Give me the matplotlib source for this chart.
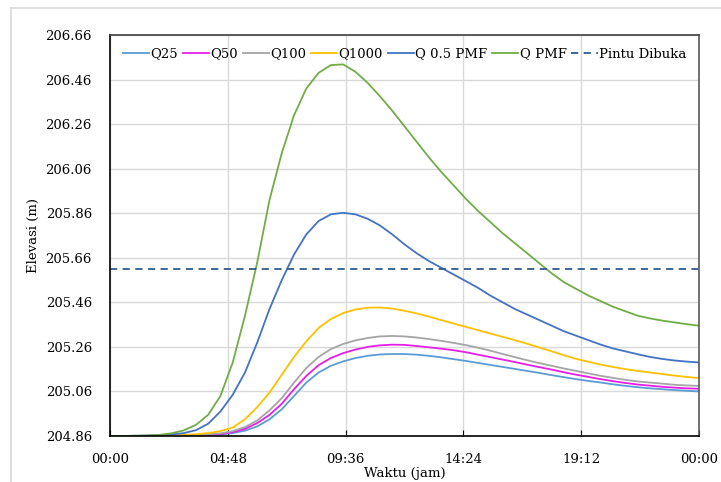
import matplotlib
matplotlib.use("Agg")
import matplotlib.pyplot as plt
from matplotlib.lines import Line2D

# time in hours (00:00 .. 00:00 next day)
t = [0, 0.5, 1, 1.5, 2, 2.5, 3, 3.5, 4, 4.5, 5, 5.5, 6, 6.5, 7, 7.5, 8, 8.5, 9, 9.5,
     10, 10.5, 11, 11.5, 12, 12.5, 13, 13.5, 14, 14.5, 15, 15.5, 16, 16.5, 17, 17.5,
     18, 18.5, 19, 19.5, 20, 20.5, 21, 21.5, 22, 22.5, 23, 23.5, 24]

q25 = [204.86, 204.86, 204.86, 204.86, 204.86, 204.86, 204.861, 204.862, 204.864, 204.867,
       204.873, 204.884, 204.903, 204.935, 204.98, 205.04, 205.10, 205.145, 205.175, 205.195,
       205.21, 205.22, 205.226, 205.228, 205.228, 205.225, 205.22, 205.213, 205.205, 205.197,
       205.188, 205.179, 205.17, 205.161, 205.152, 205.143, 205.133, 205.124, 205.115, 205.107,
       205.10, 205.092, 205.085, 205.079, 205.074, 205.07, 205.066, 205.063, 205.06]
q50 = [204.86, 204.86, 204.86, 204.86, 204.86, 204.861, 204.862, 204.863, 204.865, 204.869,
       204.877, 204.892, 204.918, 204.955, 205.005, 205.07, 205.13, 205.178, 205.21, 205.232,
       205.248, 205.26, 205.267, 205.27, 205.269, 205.264, 205.258, 205.252, 205.245, 205.236,
       205.225, 205.214, 205.203, 205.192, 205.18, 205.169, 205.158, 205.146, 205.135, 205.125,
       205.115, 205.106, 205.098, 205.091, 205.086, 205.081, 205.077, 205.074, 205.072]
q100 = [204.86, 204.86, 204.86, 204.86, 204.861, 204.862, 204.863, 204.865, 204.868, 204.872,
        204.882, 204.90, 204.93, 204.975, 205.03, 205.10, 205.165, 205.215, 205.25, 205.273,
        205.289, 205.30, 205.307, 205.309, 205.307, 205.302, 205.295, 205.287, 205.278, 205.268,
        205.256, 205.243, 205.228, 205.214, 205.20, 205.187, 205.175, 205.163, 205.152, 205.141,
        205.13, 205.121, 205.112, 205.105, 205.10, 205.095, 205.09, 205.087, 205.085]
q1000 = [204.86, 204.86, 204.86, 204.861, 204.862, 204.863, 204.865, 204.868, 204.873, 204.882,
         204.898, 204.935, 204.99, 205.055, 205.135, 205.215, 205.285, 205.345, 205.385, 205.412,
         205.428, 205.436, 205.437, 205.432, 205.422, 205.41, 205.396, 205.38, 205.365, 205.35,
         205.335, 205.32, 205.305, 205.29, 205.274, 205.257, 205.24, 205.222, 205.206, 205.193,
         205.18, 205.17, 205.16, 205.152, 205.145, 205.138, 205.131, 205.125, 205.12]
q05pmf = [204.86, 204.86, 204.861, 204.862, 204.864, 204.867, 204.873, 204.886, 204.915, 204.97,
          205.045, 205.145, 205.28, 205.43, 205.56, 205.675, 205.765, 205.825, 205.855, 205.862,
          205.855, 205.835, 205.805, 205.765, 205.72, 205.68, 205.645, 205.615, 205.585, 205.555,
          205.525, 205.49, 205.46, 205.43, 205.405, 205.38, 205.355, 205.33, 205.31, 205.29,
          205.27, 205.253, 205.24, 205.227, 205.215, 205.206, 205.199, 205.194, 205.19]
qpmf = [204.86, 204.86, 204.861, 204.862, 204.865, 204.872, 204.885, 204.91, 204.955, 205.04,
        205.19, 205.40, 205.64, 205.92, 206.13, 206.30, 206.42, 206.49, 206.525, 206.528,
        206.495, 206.445, 206.385, 206.32, 206.25, 206.18, 206.11, 206.045, 205.985, 205.925,
        205.87, 205.82, 205.77, 205.725, 205.68, 205.635, 205.59, 205.55, 205.52, 205.49,
        205.465, 205.44, 205.42, 205.40, 205.388, 205.378, 205.37, 205.362, 205.355]
pintu = 205.61

xticks = [0, 4.8, 9.6, 14.4, 19.2, 24]
xlabels = ["00:00", "04:48", "09:36", "14:24", "19:12", "00:00"]
yticks = [204.86, 205.06, 205.26, 205.46, 205.66, 205.86, 206.06, 206.26, 206.46, 206.66]

plt.rcParams['font.family'] = ['DejaVu Serif']
plt.rcParams['font.size'] = 9.5

fig = plt.figure(figsize=(7.21, 4.82), dpi=100)
# chart area border (only top and left visible)
fig.add_artist(Line2D([11/721, 1], [1-8/482, 1-8/482], color='#d9d9d9', lw=1.2))
fig.add_artist(Line2D([11/721, 11/721], [0, 1-8/482], color='#d9d9d9', lw=1.2))

ax = fig.add_axes([110/721, 46/482, 589/721, 401/482])
lw = 1.3
ax.plot(t, q25, color='#5b9bd5', lw=lw, label='Q25')
ax.plot(t, q50, color='#e61ee6', lw=lw, label='Q50')
ax.plot(t, q100, color='#a5a5a5', lw=lw, label='Q100')
ax.plot(t, q1000, color='#ffc000', lw=lw, label='Q1000')
ax.plot(t, q05pmf, color='#4472c4', lw=lw, label='Q 0.5 PMF')
ax.plot(t, qpmf, color='#70ad47', lw=lw, label='Q PMF')
ax.plot([t[0], t[-1]], [pintu, pintu], color='#2e5c8a', lw=1.3, ls=(0, (4, 3)), label='Pintu Dibuka')

ax.set_xlim(0, 24)
ax.set_ylim(204.86, 206.66)
ax.set_xticks(xticks)
ax.set_xticklabels(xlabels)
ax.set_yticks(yticks)
ax.set_yticklabels(["%.2f" % v for v in yticks])
ax.grid(True, color='#d9d9d9', lw=1)
ax.set_axisbelow(True)
ax.tick_params(axis='x', direction='in', length=4, pad=12, color='black')
ax.tick_params(axis='y', length=0, pad=13)
ax.spines['left'].set_color('black')
ax.spines['bottom'].set_color('black')
ax.spines['top'].set_color('#404040')
ax.spines['right'].set_color('#595959')
for s in ax.spines.values():
    s.set_linewidth(1.2)

ax.set_xlabel("Waktu (jam)", labelpad=1)
ax.set_ylabel("Elevasi (m)", labelpad=4)

ax.legend(loc='upper center', ncol=7, frameon=False, handlelength=2.0, handletextpad=0.1,
          columnspacing=0.35, borderaxespad=0.55, fontsize=9.5)

fig.savefig("out.png", dpi=100)
